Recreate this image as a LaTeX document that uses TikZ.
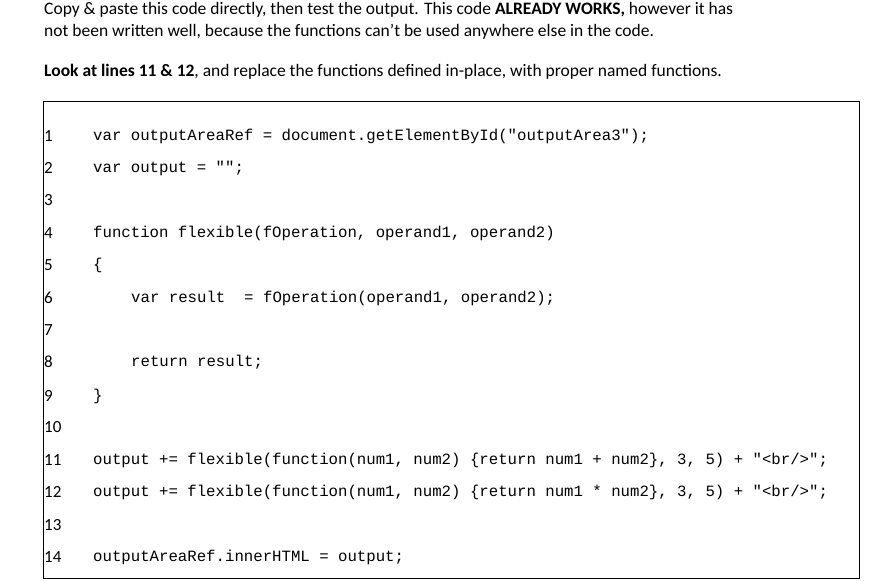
\documentclass[tikz,border=0pt]{standalone}
\usepackage{fontspec}
\setmainfont{Carlito}
\newfontfamily\codefont{Liberation Mono}
\begin{document}
\begin{tikzpicture}[x=1pt,y=-1pt,
  txt/.style={anchor=west,inner sep=0pt,font=\fontsize{17.5}{19}\selectfont},
  num/.style={anchor=west,inner sep=0pt,font=\fontsize{17}{19}\selectfont},
  code/.style={anchor=west,inner sep=0pt,font=\codefont\fontsize{15.7}{17}\selectfont}]
\useasboundingbox (0,0) rectangle (874,580);
\node[txt] (t1) at (44,10) {Copy \& paste this code directly, then test the output. This code \textbf{ALREADY WORKS,} however it has};
\node[txt] (t2) at (44,32) {not been written well, because the functions can’t be used anywhere else in the code.};
\node[txt] (t3) at (44,72) {\textbf{Look at lines 11 \& 12}, and replace the functions defined in-place, with proper named functions.};
\draw[line width=1pt] (43,102) rectangle (859,578);
\foreach \n/\y in {1/136,2/168,3/200,4/233,5/265,6/298,7/330,8/362,9/396,10/427,11/460,12/492,13/525,14/557}
  \node[num] (n\n) at (44,\y) {\n};
\node[code] (c1) at (93,136) {var outputAreaRef = document.getElementById("outputArea3");};
\node[code] (c2) at (93,168) {var output = "";};
\node[code] (c4) at (93,233) {function flexible(fOperation, operand1, operand2)};
\node[code] (c5) at (93,265) {\{};
\node[code] (c6) at (131,298) {var result\ \ = fOperation(operand1, operand2);};
\node[code] (c8) at (131,362) {return result;};
\node[code] (c9) at (93,396) {\}};
\node[code] (c11) at (93,460) {output += flexible(function(num1, num2) \{return num1 + num2\}, 3, 5) + "<br/>";};
\node[code] (c12) at (93,492) {output += flexible(function(num1, num2) \{return num1 * num2\}, 3, 5) + "<br/>";};
\node[code] (c14) at (93,557) {outputAreaRef.innerHTML = output;};
\end{tikzpicture}
\end{document}
